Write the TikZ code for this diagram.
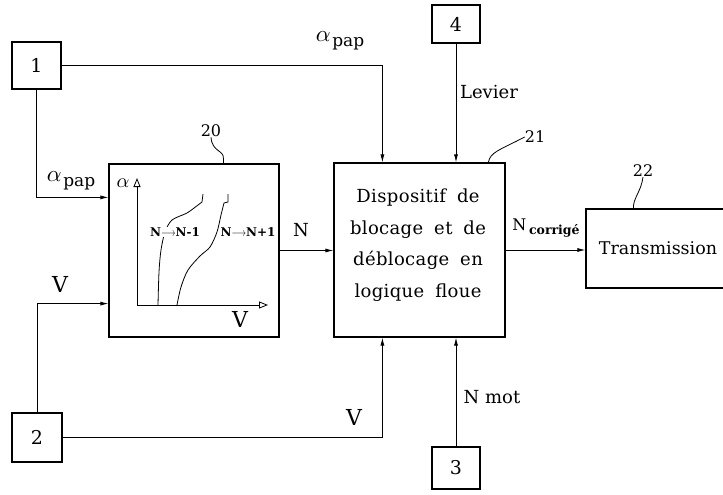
\documentclass[tikz,border=0pt]{standalone}
\usepackage{graphicx}
\usepackage{fontspec}
\setmainfont{DejaVu Serif}
\newfontfamily\widefont[WordSpace=1.8,LetterSpace=2]{DejaVu Serif}
\newcommand{\bigalpha}[1]{{\fontsize{10}{12}\selectfont\scalebox{#1}{$\alpha$}}}
\newcommand{\garr}{\scalebox{0.75}[1]{$\longrightarrow$}}
\usetikzlibrary{arrows.meta,calc}
\begin{document}
\begin{tikzpicture}[x=1pt,y=-1pt,
  box/.style={draw,line width=1.2pt,inner sep=0pt,font=\fontsize{19}{21}\selectfont},
  conn/.style={line width=0.8pt,-{Latex[length=8pt,width=4pt]}},
  lbl/.style={inner sep=0pt,font=\fontsize{18}{20}\selectfont},
  vlbl/.style={inner sep=0pt,font=\fontsize{22}{24}\selectfont},
  numlbl/.style={inner sep=0pt,font=\fontsize{16}{18}\selectfont},
  lead/.style={line width=0.8pt},
  axis/.style={line width=0.8pt,-{Triangle[open,length=9pt,width=7pt]}},
  curve/.style={line width=0.8pt},
  glbl/.style={inner sep=1pt,fill=white,font=\bfseries\fontsize{12}{14}\selectfont}]
\useasboundingbox (0,0) rectangle (723,495);
% boxes
\node[box,minimum width=49pt,minimum height=47pt] (b1) at (36.5,65.5) {1};
\node[box,minimum width=50pt,minimum height=49pt] (b2) at (37,437.5) {2};
\node[box,minimum width=48pt,minimum height=42pt] (b3) at (456,468) {3};
\node[box,minimum width=48pt,minimum height=38pt] (b4) at (456,24) {4};
\node[box,minimum width=170pt,minimum height=173pt] (b20) at (194,250.5) {};
\node[box,minimum width=171pt,minimum height=174pt] (b21) at (419.5,250) {};
\node[box,minimum width=144pt,minimum height=79pt,font=\fontsize{17.5}{19}\selectfont] (b22) at (658,248.5) {Transmission};
\node[inner sep=0pt,align=center,font=\widefont\fontsize{18}{31.5}\selectfont] (t21) at (418,245)
  {Dispositif de\\blocage et de\\déblocage en\\logique floue};
% graph inside box 20
\coordinate (o) at (137,305);
\draw[axis] (o) -- (137,178);
\draw[axis] (o) -- (268,305);
\draw[curve] plot[smooth] coordinates {(158,305) (159,272) (161,250) (165,232) (172,220) (187,213) (198,205) (202,202)} -- (203,194);
\draw[curve] plot[smooth] coordinates {(177,305) (181,287) (188,270) (200,256) (210,247) (217,232) (221,215) (224,203)} -- (228,202) -- (228,194);
\node[glbl] (g1) at (175,232) {N\garr N-1};
\node[glbl] (g2) at (248,232) {N\garr N+1};
\node[inner sep=0pt] (ga) at (123,183) {\bigalpha{2.0}};
\node[vlbl] (gv) at (240,319) {V};
% connectors
\draw[conn] (b1.east) -| ($(b21.north west)+(49,0)$);
\draw[conn] (b4.south) -- (b4.south |- b21.north);
\draw[conn] (b1.south) |- ($(b20.north west)+(0,34)$);
\draw[conn] (b2.north) |- ($(b20.south west)+(0,-34)$);
\draw[conn] (b2.east) -| ($(b21.south west)+(49,0)$);
\draw[conn] (b3.north) -- (b3.north |- b21.south);
\draw[conn] (b20.east) -- (b20.east -| b21.west);
\draw[conn] (b21.east) -- (b21.east -| b22.west);
% connector labels
\node[inner sep=0pt] (la1) at (340,41) {\bigalpha{2.3}\,\raisebox{-5pt}{\fontsize{17}{19}\selectfont pap}};
\node[inner sep=0pt] (la2) at (71,181) {\bigalpha{2.3}\,\raisebox{-5pt}{\fontsize{17}{19}\selectfont pap}};
\node[lbl] (llev) at (489,92) {Levier};
\node[lbl] (lnm) at (492,397) {N mot};
\node[vlbl] (lv1) at (60,284) {V};
\node[vlbl] (lv2) at (354,417) {V};
\node[inner sep=0pt,font=\fontsize{18}{20}\selectfont] (ln) at (301,230) {N};
\node[inner sep=0pt] (lnc) at (546,228) {\fontsize{16}{18}\selectfont N\,\raisebox{-4pt}{\bfseries\fontsize{12.5}{14}\selectfont corrigé}};
% reference numbers with leaders
\node[numlbl] (l20) at (211,131) {20};
\node[numlbl] (l21) at (535,137) {21};
\node[numlbl] (l22) at (643,171) {22};
\draw[lead] ($(b20.north west)+(115,0)$) -- ++(0,-5) .. controls (224,150) and (212,152) .. (l20.south);
\draw[lead] ($(b21.north west)+(155,0)$) .. controls (490,152) and (500,150) .. (l21.west);
\draw[lead] ($(b22.north west)+(48,0)$) .. controls (633,198) and (641,192) .. (l22.south);
\end{tikzpicture}
\end{document}
